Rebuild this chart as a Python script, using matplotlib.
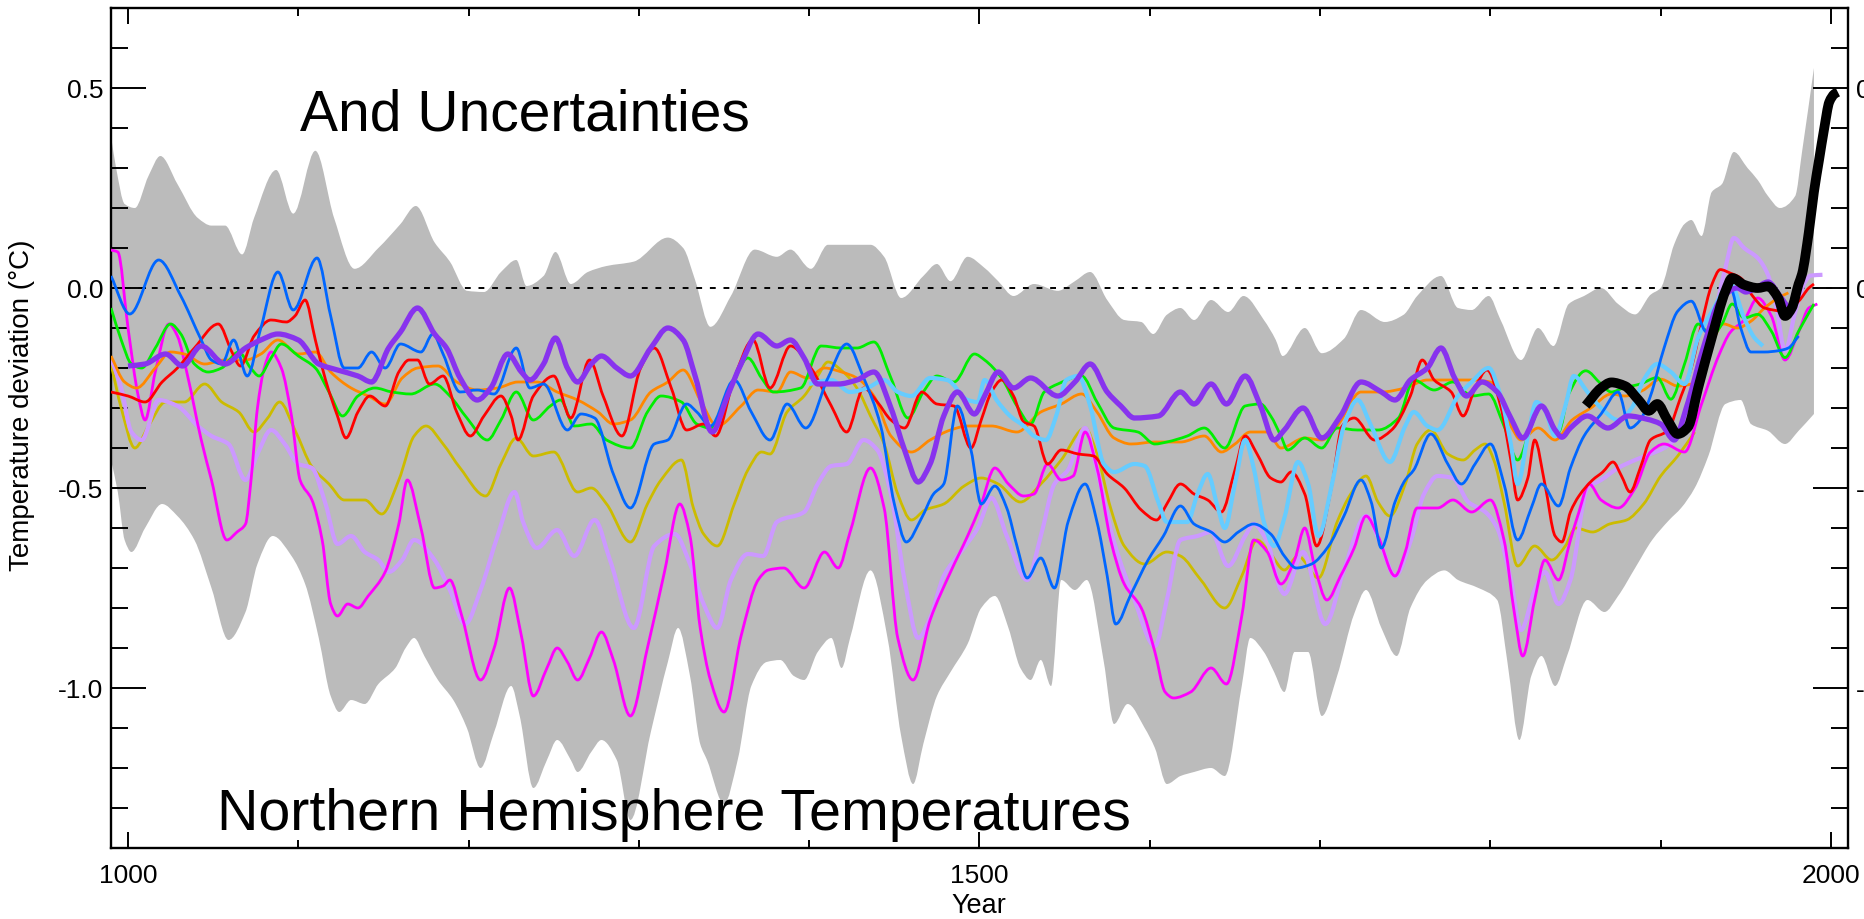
import matplotlib
matplotlib.use("Agg")
import matplotlib.pyplot as plt
import numpy as np
from matplotlib.ticker import MultipleLocator, FixedLocator
from matplotlib.path import Path
from matplotlib.patches import PathPatch

plt.rcParams['font.family'] = ['Liberation Sans', 'DejaVu Sans']

# ---------------- data ----------------
x_major = [1000, 1500, 2000]
x_major_labels = ['1000', '1500', '2000']
y_major = [-1.0, -0.5, 0.0, 0.5]
y_major_labels = ['-1.0', '-0.5', '0.0', '0.5']

band_up_years = [990, 993, 998, 1004, 1012, 1019, 1029, 1041, 1049, 1057, 1067, 1074, 1087, 1097, 1110, 1121,
                 1133, 1147, 1160, 1169, 1180, 1189, 1199, 1209, 1219, 1228, 1234, 1244, 1251, 1260, 1270, 1281,
                 1297, 1317, 1326, 1333, 1342, 1354, 1368, 1381, 1389, 1401, 1411, 1422, 1436, 1444, 1454, 1467,
                 1475, 1483, 1493, 1503, 1511, 1520, 1532, 1546, 1556, 1565, 1575, 1585, 1595, 1602, 1610, 1618,
                 1626, 1636, 1646, 1655, 1667, 1674, 1678, 1691, 1701, 1714, 1724, 1738, 1749, 1757, 1771, 1781,
                 1789, 1799, 1806, 1818, 1828, 1837, 1846, 1855, 1865, 1875, 1885, 1894, 1900, 1908, 1914, 1918,
                 1924, 1930, 1936, 1943, 1951, 1957, 1963, 1970, 1979, 1983, 1990]
band_up_vals = [0.38, 0.30, 0.21, 0.20, 0.28, 0.33, 0.26, 0.175, 0.156, 0.156, 0.084, 0.175, 0.295, 0.186, 0.343, 0.175,
                0.048, 0.10, 0.16, 0.205, 0.114, 0.066, -0.007, -0.01, 0.04, 0.07, 0.005, 0.03, 0.09, 0.01, 0.04, 0.055,
                0.066, 0.126, 0.10, 0.02, -0.097, -0.02, 0.096, 0.078, 0.096, 0.048, 0.108, 0.108, 0.108, 0.078, -0.025, 0.03,
                0.06, 0.017, 0.078, 0.05, 0.017, -0.02, 0.01, -0.007, 0.017, 0.04, -0.03, -0.08, -0.085, -0.115, -0.067, -0.05,
                -0.08, -0.03, -0.06, -0.02, -0.08, -0.13, -0.17, -0.10, -0.163, -0.127, -0.055, -0.085, -0.067, -0.02, 0.03, -0.05,
                -0.055, -0.02, -0.08, -0.18, -0.10, -0.145, -0.04, -0.02, 0.0, -0.04, -0.066, -0.017, 0.0, 0.11, 0.16, 0.17,
                0.13, 0.24, 0.26, 0.34, 0.30, 0.27, 0.23, 0.20, 0.23, 0.34, 0.55]

band_lo_years = [990, 994, 998, 1002, 1010, 1020, 1029, 1039, 1049, 1059, 1069, 1076, 1085, 1096, 1104, 1112,
                 1119, 1124, 1131, 1139, 1147, 1157, 1163, 1168, 1174, 1182, 1191, 1199, 1207, 1215, 1225, 1230,
                 1238, 1246, 1252, 1260, 1264, 1272, 1278, 1287, 1295, 1307, 1317, 1323, 1330, 1336, 1340, 1350,
                 1358, 1366, 1375, 1383, 1391, 1397, 1405, 1413, 1419, 1424, 1436, 1446, 1454, 1461, 1467, 1475,
                 1483, 1493, 1501, 1509, 1517, 1524, 1530, 1536, 1542, 1548, 1556, 1563, 1573, 1579, 1587, 1597,
                 1603, 1610, 1618, 1626, 1636, 1644, 1654, 1659, 1667, 1673, 1679, 1685, 1693, 1701, 1710, 1720,
                 1727, 1736, 1745, 1753, 1763, 1773, 1781, 1793, 1804, 1810, 1817, 1824, 1830, 1838, 1845, 1857,
                 1867, 1875, 1885, 1895, 1905, 1912, 1920, 1928, 1938, 1947, 1953, 1963, 1973, 1981, 1990]
band_lo_vals = [-0.43, -0.51, -0.63, -0.66, -0.60, -0.54, -0.57, -0.63, -0.75, -0.88, -0.81, -0.69, -0.62, -0.67, -0.74, -0.875,
                -1.02, -1.06, -1.03, -1.04, -0.99, -0.95, -0.90, -0.875, -0.92, -0.98, -1.03, -1.10, -1.20, -1.11, -0.995, -1.07,
                -1.25, -1.18, -1.13, -1.18, -1.21, -1.16, -1.13, -1.18, -1.33, -1.11, -0.935, -0.85, -0.97, -1.14, -1.18, -1.29,
                -1.18, -0.995, -0.935, -0.93, -0.97, -0.98, -0.91, -0.875, -0.95, -0.875, -0.706, -0.875, -1.12, -1.24, -1.14, -1.02,
                -0.96, -0.89, -0.80, -0.77, -0.85, -0.95, -0.98, -0.93, -0.995, -0.73, -0.755, -0.73, -0.935, -1.09, -1.04, -1.10,
                -1.15, -1.24, -1.22, -1.21, -1.20, -1.22, -0.995, -0.875, -0.91, -0.96, -1.01, -0.91, -0.91, -1.07, -0.97, -0.815,
                -0.755, -0.85, -0.92, -0.80, -0.73, -0.706, -0.73, -0.75, -0.78, -0.935, -1.13, -0.97, -0.92, -0.995, -0.92, -0.78,
                -0.81, -0.77, -0.70, -0.63, -0.58, -0.55, -0.50, -0.42, -0.29, -0.28, -0.34, -0.357, -0.39, -0.357, -0.315]

blue_years = [990, 1001, 1018, 1031, 1043, 1049, 1055, 1062, 1070, 1078, 1088, 1097, 1111, 1119, 1127, 1135, 1143, 1151,
              1160, 1172, 1179, 1185, 1195, 1205, 1215, 1228, 1236, 1244, 1258, 1266, 1274, 1285, 1295, 1309, 1317, 1328,
              1334, 1342, 1356, 1366, 1377, 1387, 1398, 1411, 1422, 1432, 1442, 1450, 1457, 1466, 1473, 1479, 1487, 1495,
              1501, 1509, 1516, 1522, 1528, 1536, 1544, 1552, 1562, 1569, 1575, 1580, 1589, 1599, 1608, 1618, 1626, 1636,
              1644, 1652, 1661, 1671, 1679, 1686, 1695, 1705, 1714, 1724, 1730, 1736, 1744, 1750, 1755, 1765, 1775, 1783,
              1791, 1800, 1808, 1816, 1824, 1830, 1840, 1847, 1855, 1865, 1875, 1882, 1888, 1894, 1902, 1910, 1918, 1927,
              1933, 1941, 1947, 1953, 1961, 1969, 1975, 1981]
blue_vals = [0.03, -0.065, 0.07, -0.02, -0.13, -0.18, -0.19, -0.13, -0.22, -0.10, 0.04, -0.055, 0.075, -0.07, -0.20, -0.20, -0.16, -0.20,
             -0.14, -0.16, -0.115, -0.165, -0.26, -0.255, -0.265, -0.15, -0.25, -0.24, -0.355, -0.315, -0.325, -0.465, -0.55, -0.39, -0.38, -0.29,
             -0.31, -0.345, -0.23, -0.31, -0.38, -0.29, -0.35, -0.225, -0.14, -0.225, -0.345, -0.54, -0.635, -0.575, -0.515, -0.49, -0.295, -0.405,
             -0.54, -0.495, -0.55, -0.645, -0.725, -0.675, -0.75, -0.585, -0.49, -0.585, -0.72, -0.84, -0.765, -0.68, -0.62, -0.545, -0.59, -0.61,
             -0.635, -0.61, -0.59, -0.615, -0.67, -0.70, -0.69, -0.645, -0.57, -0.48, -0.535, -0.65, -0.535, -0.48, -0.455, -0.365, -0.44, -0.49,
             -0.44, -0.39, -0.49, -0.63, -0.55, -0.49, -0.545, -0.45, -0.37, -0.315, -0.26, -0.35, -0.33, -0.27, -0.15, -0.058, -0.033, -0.11,
             -0.08, 0.0, -0.10, -0.16, -0.16, -0.157, -0.15, -0.12]

lightblue_years = [1400, 1413, 1424, 1434, 1444, 1452, 1460, 1471, 1481, 1493, 1499, 1503, 1510, 1518, 1526, 1532, 1539, 1545,
                   1551, 1558, 1565, 1573, 1579, 1591, 1597, 1605, 1610, 1622, 1628, 1634, 1640, 1644, 1650, 1656, 1661, 1667,
                   1673, 1679, 1687, 1693, 1699, 1707, 1714, 1722, 1730, 1741, 1750, 1755, 1763, 1769, 1781, 1789, 1799, 1806,
                   1812, 1816, 1822, 1827, 1832, 1838, 1844, 1849, 1857, 1865, 1875, 1883, 1890, 1898, 1906, 1914, 1922, 1930,
                   1941, 1949, 1955, 1960]
lightblue_vals = [-0.24, -0.23, -0.26, -0.25, -0.23, -0.26, -0.27, -0.225, -0.23, -0.28, -0.285, -0.23, -0.28, -0.32, -0.345, -0.37, -0.38, -0.32,
                  -0.23, -0.22, -0.295, -0.44, -0.46, -0.44, -0.445, -0.535, -0.585, -0.585, -0.515, -0.465, -0.55, -0.60, -0.49, -0.38, -0.45, -0.585,
                  -0.645, -0.575, -0.435, -0.49, -0.62, -0.49, -0.345, -0.28, -0.345, -0.435, -0.345, -0.31, -0.345, -0.355, -0.27, -0.235, -0.20, -0.27,
                  -0.39, -0.49, -0.37, -0.285, -0.305, -0.37, -0.295, -0.22, -0.26, -0.30, -0.33, -0.30, -0.23, -0.19, -0.21, -0.24, -0.124, -0.06,
                  0.01, -0.075, -0.124, -0.145]

red_years = [990, 1000, 1010, 1020, 1029, 1039, 1053, 1061, 1066, 1074, 1084, 1093, 1098, 1104, 1110, 1116, 1123, 1128, 1135,
             1142, 1151, 1159, 1165, 1170, 1177, 1185, 1193, 1201, 1209, 1219, 1225, 1229, 1238, 1250, 1260, 1271, 1279, 1290,
             1301, 1309, 1319, 1328, 1338, 1345, 1356, 1367, 1377, 1389, 1401, 1413, 1422, 1432, 1440, 1448, 1456, 1466, 1475,
             1485, 1495, 1501, 1507, 1513, 1520, 1526, 1532, 1540, 1548, 1558, 1567, 1575, 1585, 1595, 1604, 1610, 1618, 1626,
             1634, 1642, 1650, 1656, 1663, 1671, 1677, 1683, 1691, 1698, 1707, 1713, 1720, 1732, 1742, 1753, 1760, 1767, 1777,
             1784, 1791, 1798, 1806, 1812, 1816, 1822, 1826, 1832, 1838, 1842, 1847, 1852, 1860, 1866, 1872, 1877, 1882, 1888,
             1894, 1904, 1912, 1918, 1924, 1930, 1935, 1941, 1947, 1954, 1961, 1973, 1981, 1987, 1990]
red_vals = [-0.26, -0.27, -0.285, -0.235, -0.20, -0.15, -0.09, -0.16, -0.195, -0.12, -0.08, -0.085, -0.07, -0.03, -0.13, -0.23, -0.32, -0.375, -0.31,
            -0.27, -0.295, -0.21, -0.18, -0.18, -0.24, -0.22, -0.31, -0.37, -0.32, -0.27, -0.32, -0.38, -0.27, -0.22, -0.325, -0.18, -0.27, -0.37,
            -0.20, -0.15, -0.25, -0.355, -0.34, -0.37, -0.225, -0.13, -0.25, -0.145, -0.20, -0.295, -0.36, -0.25, -0.285, -0.33, -0.35, -0.26, -0.29,
            -0.295, -0.40, -0.33, -0.26, -0.23, -0.27, -0.335, -0.345, -0.44, -0.405, -0.415, -0.42, -0.465, -0.50, -0.555, -0.58, -0.54, -0.49, -0.515,
            -0.53, -0.56, -0.455, -0.37, -0.415, -0.475, -0.485, -0.46, -0.515, -0.645, -0.49, -0.345, -0.325, -0.38, -0.355, -0.27, -0.18, -0.23, -0.26,
            -0.32, -0.25, -0.205, -0.295, -0.43, -0.53, -0.475, -0.38, -0.49, -0.62, -0.635, -0.56, -0.52, -0.48, -0.46, -0.435, -0.47, -0.51, -0.45,
            -0.38, -0.357, -0.27, -0.20, -0.09, 0.008, 0.046, 0.037, 0.025, -0.02, -0.05, -0.058, -0.033, 0.0, 0.01]

orange_years = [990, 998, 1005, 1016, 1025, 1033, 1045, 1057, 1069, 1078, 1088, 1100, 1110, 1119, 1131, 1141, 1151, 1161, 1170,
                1182, 1193, 1205, 1217, 1229, 1240, 1252, 1264, 1276, 1285, 1295, 1307, 1317, 1326, 1336, 1346, 1360, 1370, 1381,
                1389, 1399, 1409, 1419, 1428, 1438, 1448, 1460, 1471, 1483, 1493, 1507, 1522, 1536, 1548, 1560, 1569, 1579, 1589,
                1603, 1618, 1632, 1642, 1650, 1659, 1669, 1677, 1691, 1701, 1710, 1724, 1736, 1750, 1763, 1777, 1789, 1800, 1812,
                1818, 1828, 1838, 1848, 1859, 1871, 1879, 1889, 1900, 1910, 1918, 1928, 1937, 1945, 1953, 1961, 1969, 1975]
orange_vals = [-0.17, -0.235, -0.25, -0.20, -0.16, -0.165, -0.19, -0.18, -0.18, -0.165, -0.13, -0.165, -0.16, -0.21, -0.25, -0.27, -0.29, -0.225, -0.20,
               -0.195, -0.235, -0.255, -0.25, -0.235, -0.235, -0.26, -0.28, -0.31, -0.34, -0.33, -0.26, -0.235, -0.205, -0.28, -0.345, -0.295, -0.255, -0.26,
               -0.21, -0.225, -0.20, -0.21, -0.225, -0.27, -0.37, -0.41, -0.38, -0.355, -0.345, -0.345, -0.36, -0.31, -0.29, -0.265, -0.31, -0.375, -0.39,
               -0.385, -0.385, -0.37, -0.41, -0.39, -0.36, -0.36, -0.40, -0.375, -0.38, -0.345, -0.26, -0.26, -0.25, -0.23, -0.23, -0.23, -0.235, -0.345,
               -0.38, -0.35, -0.38, -0.33, -0.30, -0.265, -0.27, -0.257, -0.228, -0.245, -0.24, -0.158, -0.09, -0.10, -0.083, -0.05, -0.025, -0.012]

green_years = [990, 996, 1002, 1008, 1016, 1025, 1031, 1039, 1047, 1055, 1065, 1072, 1077, 1084, 1090, 1100, 1110, 1118, 1126,
               1135, 1145, 1155, 1166, 1180, 1189, 1199, 1211, 1219, 1228, 1238, 1248, 1254, 1262, 1272, 1281, 1295, 1305, 1313,
               1325, 1334, 1342, 1354, 1364, 1372, 1379, 1395, 1407, 1419, 1428, 1438, 1448, 1458, 1467, 1475, 1485, 1497, 1503,
               1513, 1522, 1530, 1538, 1546, 1560, 1569, 1579, 1593, 1603, 1610, 1622, 1632, 1644, 1656, 1665, 1671, 1677, 1681,
               1691, 1701, 1710, 1722, 1734, 1746, 1755, 1767, 1778, 1789, 1799, 1808, 1816, 1824, 1830, 1840, 1846, 1856, 1865,
               1871, 1878, 1888, 1898, 1906, 1914, 1922, 1930, 1936, 1942, 1949, 1957, 1965, 1973, 1981, 1990]
green_vals = [-0.05, -0.13, -0.19, -0.20, -0.15, -0.09, -0.115, -0.19, -0.21, -0.20, -0.16, -0.20, -0.22, -0.175, -0.14, -0.17, -0.20, -0.26, -0.32,
              -0.27, -0.25, -0.26, -0.265, -0.24, -0.27, -0.325, -0.38, -0.33, -0.26, -0.33, -0.295, -0.28, -0.345, -0.34, -0.38, -0.40, -0.31, -0.27,
              -0.285, -0.34, -0.35, -0.25, -0.175, -0.225, -0.26, -0.25, -0.145, -0.15, -0.15, -0.135, -0.225, -0.325, -0.26, -0.22, -0.235, -0.165, -0.18,
              -0.225, -0.295, -0.34, -0.26, -0.24, -0.22, -0.285, -0.35, -0.36, -0.39, -0.385, -0.37, -0.35, -0.40, -0.295, -0.29, -0.32, -0.37, -0.405,
              -0.375, -0.40, -0.35, -0.355, -0.355, -0.325, -0.23, -0.255, -0.235, -0.27, -0.265, -0.345, -0.43, -0.345, -0.295, -0.36, -0.265, -0.207, -0.24,
              -0.26, -0.25, -0.24, -0.224, -0.278, -0.19, -0.09, -0.12, -0.09, -0.04, -0.075, -0.066, -0.108, -0.174, -0.108, -0.04]

olive_years = [990, 996, 1004, 1012, 1022, 1033, 1045, 1055, 1065, 1074, 1082, 1089, 1098, 1108, 1118, 1127, 1139, 1149, 1159,
               1168, 1175, 1185, 1195, 1210, 1219, 1228, 1238, 1250, 1264, 1272, 1281, 1295, 1305, 1313, 1325, 1332, 1338, 1346,
               1356, 1364, 1372, 1377, 1387, 1397, 1405, 1411, 1420, 1428, 1436, 1444, 1452, 1460, 1468, 1479, 1491, 1501, 1511,
               1524, 1536, 1548, 1562, 1569, 1577, 1585, 1597, 1610, 1618, 1630, 1644, 1654, 1663, 1671, 1679, 1687, 1699, 1710,
               1718, 1727, 1734, 1741, 1750, 1757, 1765, 1775, 1784, 1791, 1797, 1802, 1808, 1816, 1826, 1836, 1844, 1850, 1860,
               1870, 1880, 1890, 1900, 1910, 1920]
olive_vals = [-0.19, -0.30, -0.40, -0.345, -0.285, -0.285, -0.24, -0.285, -0.31, -0.36, -0.325, -0.285, -0.355, -0.447, -0.49, -0.53, -0.53, -0.565, -0.48,
              -0.37, -0.345, -0.39, -0.45, -0.52, -0.44, -0.375, -0.42, -0.41, -0.51, -0.50, -0.54, -0.635, -0.54, -0.48, -0.43, -0.55, -0.615, -0.645,
              -0.54, -0.455, -0.41, -0.415, -0.31, -0.27, -0.22, -0.185, -0.21, -0.25, -0.32, -0.39, -0.515, -0.58, -0.555, -0.54, -0.495, -0.475, -0.49,
              -0.535, -0.49, -0.43, -0.35, -0.415, -0.55, -0.645, -0.69, -0.66, -0.67, -0.73, -0.80, -0.72, -0.63, -0.665, -0.705, -0.67, -0.725, -0.585,
              -0.515, -0.47, -0.535, -0.57, -0.49, -0.39, -0.355, -0.415, -0.43, -0.405, -0.39, -0.43, -0.535, -0.695, -0.645, -0.68, -0.645, -0.60, -0.61,
              -0.59, -0.58, -0.54, -0.47, -0.42, -0.36]

magenta_years = [990, 994, 1000, 1006, 1010, 1016, 1024, 1029, 1035, 1043, 1049, 1058, 1064, 1069, 1072, 1076, 1080, 1084, 1090,
                 1096, 1101, 1108, 1114, 1119, 1123, 1129, 1135, 1141, 1151, 1159, 1164, 1172, 1180, 1185, 1189, 1196, 1207, 1215,
                 1224, 1231, 1238, 1246, 1252, 1258, 1264, 1271, 1278, 1285, 1295, 1305, 1315, 1324, 1330, 1336, 1342, 1350, 1360,
                 1370, 1376, 1385, 1397, 1409, 1417, 1424, 1436, 1444, 1452, 1461, 1471, 1483, 1493, 1501, 1509, 1517, 1526, 1532,
                 1540, 1548, 1555, 1562, 1569, 1577, 1585, 1595, 1603, 1609, 1614, 1624, 1636, 1645, 1654, 1661, 1669, 1677, 1685,
                 1691, 1697, 1704, 1712, 1720, 1727, 1734, 1744, 1750, 1757, 1769, 1778, 1789, 1800, 1808, 1814, 1819, 1826, 1832,
                 1840, 1847, 1852, 1858, 1865, 1875, 1885, 1894, 1902, 1914, 1924, 1934, 1941, 1949, 1957, 1965, 1973, 1981, 1987, 1992]
magenta_vals = [0.095, 0.09, -0.10, -0.27, -0.33, -0.21, -0.09, -0.12, -0.22, -0.38, -0.48, -0.63, -0.61, -0.59, -0.49, -0.30, -0.20, -0.16, -0.20,
                -0.32, -0.48, -0.53, -0.63, -0.79, -0.82, -0.79, -0.80, -0.77, -0.71, -0.59, -0.48, -0.60, -0.75, -0.745, -0.73, -0.82, -0.98, -0.90,
                -0.75, -0.87, -1.02, -0.95, -0.90, -0.935, -0.98, -0.925, -0.86, -0.93, -1.07, -0.90, -0.71, -0.54, -0.62, -0.85, -0.98, -1.06, -0.87,
                -0.73, -0.705, -0.70, -0.75, -0.66, -0.70, -0.61, -0.45, -0.55, -0.875, -0.98, -0.83, -0.71, -0.62, -0.54, -0.45, -0.49, -0.52, -0.515,
                -0.44, -0.48, -0.47, -0.36, -0.45, -0.63, -0.74, -0.80, -0.91, -1.01, -1.025, -1.01, -0.95, -0.99, -0.82, -0.63, -0.66, -0.74, -0.68,
                -0.60, -0.70, -0.78, -0.72, -0.65, -0.57, -0.62, -0.72, -0.66, -0.55, -0.55, -0.53, -0.56, -0.53, -0.63, -0.81, -0.92, -0.78, -0.68,
                -0.73, -0.63, -0.56, -0.49, -0.53, -0.55, -0.50, -0.41, -0.39, -0.41, -0.29, -0.17, -0.11, -0.08, -0.025, -0.07, -0.18, -0.11, -0.05, -0.04]

lavender_years = [990, 996, 1002, 1008, 1018, 1029, 1041, 1049, 1059, 1069, 1076, 1084, 1092, 1100, 1108, 1116, 1123, 1131, 1139,
                  1147, 1153, 1161, 1168, 1180, 1189, 1198, 1207, 1217, 1227, 1232, 1240, 1252, 1262, 1274, 1283, 1297, 1309, 1321,
                  1330, 1338, 1346, 1354, 1364, 1373, 1381, 1397, 1405, 1413, 1422, 1432, 1440, 1448, 1456, 1464, 1471, 1479, 1489,
                  1499, 1507, 1516, 1528, 1536, 1544, 1552, 1562, 1569, 1579, 1591, 1603, 1610, 1618, 1628, 1636, 1646, 1656, 1661,
                  1669, 1677, 1679, 1690, 1703, 1714, 1727, 1736, 1744, 1753, 1761, 1769, 1778, 1787, 1797, 1804, 1812, 1818, 1826,
                  1832, 1840, 1847, 1857, 1865, 1875, 1885, 1894, 1902, 1912, 1920, 1930, 1938, 1943, 1949, 1957, 1963, 1968, 1973,
                  1979, 1985, 1988, 1995]
lavender_vals = [-0.175, -0.25, -0.36, -0.38, -0.28, -0.295, -0.345, -0.37, -0.39, -0.48, -0.415, -0.355, -0.39, -0.44, -0.45, -0.54, -0.64, -0.62, -0.66,
                 -0.68, -0.71, -0.68, -0.63, -0.68, -0.755, -0.84, -0.755, -0.62, -0.51, -0.585, -0.65, -0.605, -0.67, -0.58, -0.68, -0.85, -0.645, -0.615,
                 -0.69, -0.79, -0.85, -0.73, -0.665, -0.67, -0.585, -0.56, -0.49, -0.445, -0.44, -0.38, -0.405, -0.515, -0.73, -0.875, -0.825, -0.72, -0.66,
                 -0.60, -0.525, -0.62, -0.73, -0.62, -0.49, -0.455, -0.35, -0.455, -0.635, -0.78, -0.895, -0.78, -0.63, -0.62, -0.61, -0.695, -0.62, -0.59,
                 -0.635, -0.755, -0.765, -0.66, -0.84, -0.705, -0.57, -0.645, -0.72, -0.635, -0.515, -0.47, -0.475, -0.535, -0.56, -0.60, -0.73, -0.855, -0.755,
                 -0.71, -0.79, -0.73, -0.50, -0.48, -0.45, -0.43, -0.415, -0.40, -0.36, -0.25, -0.10, 0.05, 0.125, 0.10, 0.075, 0.033, -0.05, -0.157,
                 -0.06, 0.017, 0.031, 0.033]

purple_years = [1000, 1010, 1022, 1032, 1043, 1057, 1069, 1078, 1088, 1100, 1112, 1123, 1135, 1143, 1153, 1160, 1170, 1180, 1187,
                1195, 1205, 1213, 1223, 1231, 1236, 1244, 1251, 1258, 1264, 1272, 1278, 1287, 1295, 1307, 1317, 1326, 1333, 1343,
                1352, 1360, 1370, 1381, 1389, 1397, 1405, 1417, 1428, 1438, 1448, 1456, 1464, 1471, 1479, 1487, 1497, 1503, 1511,
                1520, 1530, 1546, 1556, 1565, 1575, 1583, 1591, 1605, 1618, 1626, 1636, 1645, 1656, 1665, 1673, 1679, 1690, 1701,
                1712, 1724, 1736, 1744, 1753, 1763, 1771, 1779, 1786, 1795, 1804, 1812, 1819, 1830, 1838, 1842, 1847, 1857, 1869,
                1881, 1892, 1900, 1908, 1915, 1925, 1935, 1945, 1950, 1956, 1963, 1970, 1975]
purple_vals = [-0.195, -0.19, -0.165, -0.195, -0.145, -0.19, -0.15, -0.13, -0.115, -0.13, -0.19, -0.205, -0.22, -0.235, -0.15, -0.11, -0.05, -0.115, -0.15,
               -0.225, -0.28, -0.25, -0.165, -0.21, -0.23, -0.19, -0.125, -0.20, -0.235, -0.19, -0.17, -0.20, -0.22, -0.15, -0.10, -0.13, -0.22, -0.36,
               -0.27, -0.19, -0.115, -0.145, -0.13, -0.175, -0.24, -0.24, -0.23, -0.21, -0.30, -0.405, -0.485, -0.44, -0.32, -0.26, -0.315, -0.27, -0.21,
               -0.25, -0.225, -0.27, -0.235, -0.19, -0.26, -0.295, -0.325, -0.32, -0.26, -0.29, -0.24, -0.29, -0.22, -0.295, -0.38, -0.355, -0.30, -0.375,
               -0.32, -0.235, -0.26, -0.28, -0.23, -0.20, -0.15, -0.225, -0.27, -0.235, -0.26, -0.325, -0.375, -0.295, -0.355, -0.373, -0.35, -0.32, -0.35,
               -0.32, -0.328, -0.34, -0.38, -0.30, -0.15, -0.03, 0.0, -0.01, 0.0, 0.015, -0.02, -0.05]

black_years = [1856, 1865, 1871, 1879, 1887, 1893, 1898, 1904, 1910, 1916, 1922, 1930, 1938, 1942, 1949, 1957, 1963, 1969,
               1973, 1977, 1981, 1983, 1987, 1990, 1993, 1996, 1999, 2002, 2004]
black_vals = [-0.294, -0.25, -0.236, -0.245, -0.28, -0.307, -0.29, -0.33, -0.365, -0.348, -0.25, -0.124, -0.008, 0.025, 0.008, 0.0, 0.004, -0.025,
              -0.07, -0.05, 0.01, 0.035, 0.14, 0.24, 0.32, 0.398, 0.465, 0.485, 0.49]


# ---------------- smooth (Bezier) rendering of the read points ----------------
def _slopes(x, y):
    x = np.asarray(x, float)
    y = np.asarray(y, float)
    h = np.diff(x)
    d = np.diff(y) / h
    m = np.zeros(len(x))
    for i in range(1, len(x) - 1):
        if d[i - 1] * d[i] > 0:
            w1 = 2 * h[i] + h[i - 1]
            w2 = h[i] + 2 * h[i - 1]
            m[i] = (w1 + w2) / (w1 / d[i - 1] + w2 / d[i])
    m[0] = d[0]
    m[-1] = d[-1]
    return x, y, m


def _segments(xs, ys):
    x, y, m = _slopes(xs, ys)
    segs = []
    for i in range(len(x) - 1):
        dx = x[i + 1] - x[i]
        c1 = (x[i] + dx / 3, y[i] + m[i] * dx / 3)
        c2 = (x[i + 1] - dx / 3, y[i + 1] - m[i + 1] * dx / 3)
        segs.append(((x[i], y[i]), c1, c2, (x[i + 1], y[i + 1])))
    return segs


def smooth_line_path(xs, ys):
    segs = _segments(xs, ys)
    verts = [segs[0][0]]
    codes = [Path.MOVETO]
    for p0, c1, c2, p1 in segs:
        verts += [c1, c2, p1]
        codes += [Path.CURVE4] * 3
    return Path(verts, codes)


def smooth_band_path(ux, uy, lx, ly):
    up = _segments(ux, uy)
    lo = _segments(lx, ly)
    verts = [up[0][0]]
    codes = [Path.MOVETO]
    for p0, c1, c2, p1 in up:
        verts += [c1, c2, p1]
        codes += [Path.CURVE4] * 3
    verts.append(lo[-1][3])
    codes.append(Path.LINETO)
    for p0, c1, c2, p1 in reversed(lo):
        verts += [c2, c1, p0]
        codes += [Path.CURVE4] * 3
    verts.append(up[0][0])
    codes.append(Path.CLOSEPOLY)
    return Path(verts, codes)


# ---------------- figure ----------------
W, H = 1865, 920
fig = plt.figure(figsize=(W / 100, H / 100), dpi=100)
ax = fig.add_axes([111 / W, 71 / H, 1737 / W, 840 / H])
ax.set_xlim(990, 2010)
ax.set_ylim(-1.4, 0.7)

ax.add_patch(PathPatch(smooth_band_path(band_up_years, band_up_vals, band_lo_years, band_lo_vals),
                       facecolor='#bbbbbb', edgecolor='none', lw=0, zorder=1))

ax.axhline(0.0, color='black', lw=1.4, ls=(0, (3, 4)), zorder=2)

series = [
    (olive_years, olive_vals, '#ccbb00', 2.0, 3),
    (lavender_years, lavender_vals, '#cc99ff', 3.0, 3.1),
    (magenta_years, magenta_vals, '#ff00ff', 2.0, 3.2),
    (orange_years, orange_vals, '#ff8800', 2.0, 3.3),
    (green_years, green_vals, '#00ee00', 2.0, 3.4),
    (red_years, red_vals, '#ff0000', 2.0, 3.5),
    (lightblue_years, lightblue_vals, '#66ccff', 3.0, 3.6),
    (blue_years, blue_vals, '#0066ff', 2.0, 3.7),
    (purple_years, purple_vals, '#8833ee', 3.8, 3.8),
    (black_years, black_vals, '#000000', 7.0, 4),
]
for yrs, vals, col, lw, z in series:
    ax.add_patch(PathPatch(smooth_line_path(yrs, vals), facecolor='none', edgecolor=col,
                           lw=lw, zorder=z, capstyle='butt', joinstyle='round'))

ax.xaxis.set_major_locator(FixedLocator(x_major))
ax.set_xticklabels(x_major_labels)
ax.xaxis.set_minor_locator(MultipleLocator(100))
ax.yaxis.set_major_locator(FixedLocator(y_major))
ax.set_yticklabels(y_major_labels)
ax.yaxis.set_minor_locator(MultipleLocator(0.1))

ax.tick_params(axis='x', which='both', direction='in', top=True, bottom=True, width=1.4,
               labelsize=19, pad=11)
ax.tick_params(axis='x', which='major', length=11.5)
ax.tick_params(axis='x', which='minor', length=6)
ax.tick_params(axis='y', which='both', direction='in', left=True, right=True, width=1.4,
               labelsize=19, pad=5.5, labelleft=True, labelright=True)
ax.tick_params(axis='y', which='major', length=25)
ax.tick_params(axis='y', which='minor', length=12)
for sp in ax.spines.values():
    sp.set_linewidth(1.7)

fig.text(979 / W, 7 / H, 'Year', ha='center', va='baseline', fontsize=19.5)
fig.text(22 / W, (H - 405) / H, 'Temperature deviation (\u00b0C)', rotation=90,
         ha='center', va='center', fontsize=20)

ax.text((300 - 111) / 1737, (849 - 130) / 840, 'And Uncertainties', transform=ax.transAxes,
        ha='left', va='baseline', fontsize=41, zorder=10)
ax.text((217 - 111) / 1737, (849 - 830) / 840, 'Northern Hemisphere Temperatures', transform=ax.transAxes,
        ha='left', va='baseline', fontsize=41.3, zorder=10)

fig.savefig('out.png', dpi=100)
